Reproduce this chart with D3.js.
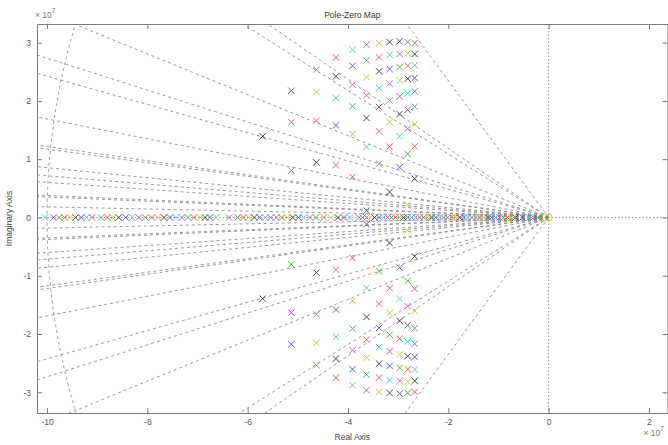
<!DOCTYPE html>
<html>
<head>
<meta charset="utf-8">
<script src="https://cdn.jsdelivr.net/npm/d3@7"></script>
<style>
body { margin: 0; background: #fff; }
text { font-family: "Liberation Sans", Arial, sans-serif; }
</style>
</head>
<body>
<div id="pzmap"></div>
<script>
var margin = {top: 24, right: 0.5, bottom: 32, left: 37},
    width = 668 - margin.left - margin.right,
    height = 445 - margin.top - margin.bottom;

// values in units of 1e7
var xTicks = [-10, -8, -6, -4, -2, 0, 2];
var yTicks = [-3, -2, -1, 0, 1, 2, 3];

// damping grid: slope imag/real of each ray, and natural frequency circles
var raySlopes = [0.0182, 0.035, 0.0378, 0.0602, 0.0715, 0.0854, 0.1174, 0.1219,
                 0.169, 0.2425, 0.2733, 0.351, 0.5447, 0.593, 1.1736];
var freqCircles = [10];

// complex poles (upper half, conjugates drawn too), one list per system colour
var polesBlue = [[-2.97,3.022],[-3.91,2.604],[-3.17,2.547],[-2.67,2.393],[-5.13,2.175],
                 [-3.38,1.895],[-2.81,1.849],[-4.24,1.581],[-2.97,0.861],[-3.63,0.117]];
var polesGreen = [[-2.81,3.010],[-3.63,2.696],[-4.63,2.535],[-2.97,2.581],[-3.91,1.907],
                  [-3.17,2.010],[-2.67,1.901],[-2.81,1.089],[-5.13,0.803],[-3.38,0.923]];
var polesRed = [[-2.67,2.993],[-4.24,2.748],[-3.38,2.748],[-2.81,2.604],[-3.63,2.096],
                [-2.97,2.079],[-4.63,1.660],[-3.17,1.214],[-2.67,1.221],[-3.91,0.695]];
var polesCyan = [[-3.91,2.878],[-3.17,2.792],[-2.67,2.611],[-4.24,2.050],[-3.38,2.221],
                 [-2.81,2.130],[-2.97,1.393],[-3.63,1.209]];
var polesMagenta = [[-3.63,2.964],[-2.97,2.804],[-3.91,2.278],[-3.17,2.295],[-2.67,2.165],
                    [-5.13,1.633],[-2.81,1.523],[-3.38,1.479],[-4.24,0.895]];
var polesYellow = [[-3.38,2.993],[-2.81,2.816],[-3.63,2.405],[-2.97,2.353],[-4.63,2.153],
                   [-3.17,1.638],[-2.67,1.604],[-3.91,1.432],[-2.81,0.220]];
var polesBlack = [[-3.17,3.010],[-2.67,2.804],[-4.24,2.422],[-3.38,2.508],[-2.81,2.381],
                  [-3.63,1.707],[-2.97,1.775],[-5.70,1.393],[-4.63,0.947],[-2.67,0.666],[-3.17,0.437]];

// real poles
var realPoles = [-10.04, -9.87, -9.76, -9.65, -9.54, -9.43, -9.32, -9.21, -9.10,
  -8.92, -8.80, -8.69, -8.57,
  -8.43, -8.30, -8.17, -8.04, -7.91, -7.79,
  -7.67, -7.55, -7.43, -7.31, -7.19, -7.07, -6.94, -6.85, -6.75, -6.63,
  -6.37,
  -6.20, -6.09, -5.98, -5.87, -5.76, -5.65, -5.54, -5.43, -5.32, -5.21, -5.10, -4.99, -4.88, -4.76, -4.64,
  -4.48, -4.34, -4.20, -4.08, -3.96,
  -3.78, -3.71, -3.63, -3.55, -3.47, -3.38, -3.29, -3.21, -3.13, -3.05, -2.97, -2.89, -2.81, -2.73,
  -2.65, -2.57, -2.49, -2.41, -2.33, -2.25, -2.17, -2.09, -2.01, -1.93, -1.85, -1.77, -1.69, -1.61,
  -1.53, -1.45, -1.37, -1.29, -1.21, -1.14, -1.06, -0.98, -0.90, -0.82, -0.74, -0.66,
  -0.52, -0.38, -0.30, -0.22];
var zerosReal = [-0.06, 0.0];

var colors = {b: "#5f5fd4", g: "#5aae5a", r: "#e06060", c: "#5ac8c8", m: "#c860c8", y: "#c8c84a", k: "#4a4a4a"};
var realOrder = ["c", "m", "g", "r", "y", "k", "b"];

var svg = d3.select("#pzmap")
  .append("svg")
    .attr("width", 668)
    .attr("height", 445)
  .append("g")
    .attr("transform", "translate(" + margin.left + "," + margin.top + ")");

var x = d3.scaleLinear().domain([-10.2, 2.37]).range([0, width]);
var y = d3.scaleLinear().domain([-3.355, 3.32]).range([height, 0]);

svg.append("clipPath").attr("id", "plotclip")
  .append("rect").attr("width", width).attr("height", height);

var plot = svg.append("g").attr("clip-path", "url(#plotclip)");

// damping rays
var rays = [];
raySlopes.forEach(function(s) { rays.push(s); rays.push(-s); });
plot.append("g").selectAll("line")
  .data(rays)
  .enter().append("line")
    .attr("x1", x(0)).attr("y1", y(0))
    .attr("x2", x(-20))
    .attr("y2", function(d) { return y(20 * d); })
    .attr("stroke", "#808080")
    .attr("stroke-width", 0.8)
    .attr("stroke-dasharray", "3,3");

// natural frequency circles (left half)
plot.append("g").selectAll("path")
  .data(freqCircles)
  .enter().append("path")
    .attr("d", function(r) {
      var rx = x(0) - x(-r), ry = y(0) - y(r);
      return "M" + x(0) + "," + y(r) + "A" + rx + "," + ry + " 0 0 0 " + x(0) + "," + y(-r);
    })
    .attr("fill", "none")
    .attr("stroke", "#808080")
    .attr("stroke-width", 0.8)
    .attr("stroke-dasharray", "3,3");

// zero lines
plot.append("line")
  .attr("x1", 0).attr("x2", width).attr("y1", y(0)).attr("y2", y(0))
  .attr("stroke", "#808080").attr("stroke-width", 0.8).attr("stroke-dasharray", "1.5,2");
plot.append("line")
  .attr("x1", x(0)).attr("x2", x(0)).attr("y1", 0).attr("y2", height)
  .attr("stroke", "#808080").attr("stroke-width", 0.8).attr("stroke-dasharray", "1.5,2");

var cross = "M-3.2,-3.2L3.2,3.2M-3.2,3.2L3.2,-3.2";

// real poles
plot.append("g").selectAll("path")
  .data(realPoles)
  .enter().append("path")
    .attr("d", cross)
    .attr("transform", function(d) { return "translate(" + x(d) + "," + y(0) + ")"; })
    .attr("fill", "none")
    .attr("stroke", function(d, i) { return colors[realOrder[i % realOrder.length]]; })
    .attr("stroke-width", 1);

// complex poles with conjugates
var systems = [["b", polesBlue], ["g", polesGreen], ["r", polesRed], ["c", polesCyan],
               ["m", polesMagenta], ["y", polesYellow], ["k", polesBlack]];
systems.forEach(function(sys) {
  var pts = [];
  sys[1].forEach(function(p) { pts.push([p[0], p[1]]); pts.push([p[0], -p[1]]); });
  plot.append("g").selectAll("path")
    .data(pts)
    .enter().append("path")
      .attr("d", cross)
      .attr("transform", function(d) { return "translate(" + x(d[0]) + "," + y(d[1]) + ")"; })
      .attr("fill", "none")
      .attr("stroke", colors[sys[0]])
      .attr("stroke-width", 1);
});

// zeros
plot.append("g").selectAll("circle")
  .data(zerosReal)
  .enter().append("circle")
    .attr("cx", function(d) { return x(d); })
    .attr("cy", y(0))
    .attr("r", 3.5)
    .attr("fill", "none")
    .attr("stroke", colors.y)
    .attr("stroke-width", 1);

// axes
var axisColor = "#7a7a7a";
function styleAxis(g) {
  g.select(".domain").attr("stroke", axisColor);
  g.selectAll(".tick line").attr("stroke", axisColor);
  g.selectAll(".tick text").attr("fill", "#555").attr("font-size", "8.5px")
    .attr("font-family", "'Liberation Sans', Arial, sans-serif");
}
var fmt = function(d) { return String(d); };
svg.append("g")
  .attr("transform", "translate(0," + height + ")")
  .call(d3.axisBottom(x).tickValues(xTicks).tickFormat(fmt).tickSizeInner(-5).tickSizeOuter(0).tickPadding(6))
  .call(styleAxis);
svg.append("g")
  .call(d3.axisTop(x).tickValues(xTicks).tickSizeInner(-5).tickSizeOuter(0).tickFormat(""))
  .call(styleAxis);
svg.append("g")
  .call(d3.axisLeft(y).tickValues(yTicks).tickFormat(fmt).tickSizeInner(-5).tickSizeOuter(0).tickPadding(6))
  .call(styleAxis);
svg.append("g")
  .attr("transform", "translate(" + width + ",0)")
  .call(d3.axisRight(y).tickValues(yTicks).tickSizeInner(-5).tickSizeOuter(0).tickFormat(""))
  .call(styleAxis);

// titles
svg.append("text")
  .attr("x", width / 2).attr("y", -6)
  .attr("text-anchor", "middle")
  .attr("font-size", "8.5px").attr("fill", "#333")
  .text("Pole-Zero Map");
svg.append("text")
  .attr("x", width / 2).attr("y", height + 27)
  .attr("text-anchor", "middle")
  .attr("font-size", "8.5px").attr("fill", "#444")
  .text("Real Axis");
svg.append("text")
  .attr("transform", "translate(" + (-25) + "," + (height / 2) + ") rotate(-90)")
  .attr("text-anchor", "middle")
  .attr("font-size", "8.5px").attr("fill", "#444")
  .text("Imaginary Axis");

// exponent labels
var ex1 = svg.append("text")
  .attr("x", -2).attr("y", -6)
  .attr("font-size", "8.5px").attr("fill", "#777");
ex1.append("tspan").text("\u00d7 10");
ex1.append("tspan").attr("dy", -5).attr("font-size", "6.5px").text("7");
var ex2 = svg.append("text")
  .attr("x", width - 24).attr("y", height + 23)
  .attr("font-size", "8.5px").attr("fill", "#777");
ex2.append("tspan").text("\u00d7 10");
ex2.append("tspan").attr("dy", -5).attr("font-size", "6.5px").text("7");
</script>
</body>
</html>
